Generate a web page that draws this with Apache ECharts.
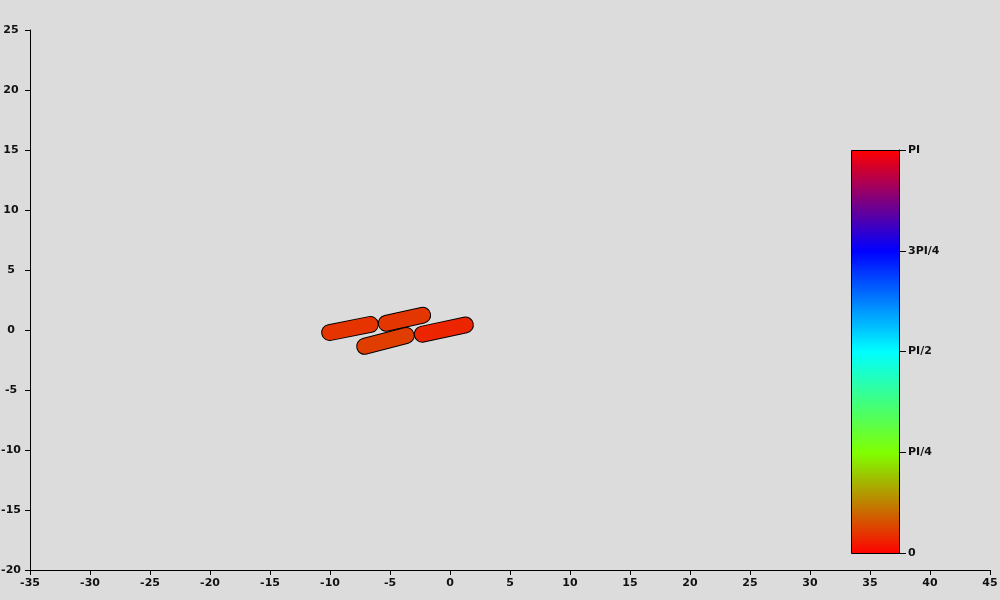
<!DOCTYPE html>
<html>
<head>
<meta charset="utf-8">
<script src="https://cdn.jsdelivr.net/npm/echarts@6/dist/echarts.min.js"></script>
<style>
html,body{margin:0;padding:0;background:#dcdcdc;}
#c{width:1000px;height:600px;}
</style>
</head>
<body>
<div id="c"></div>
<script>
// Rod (capsule) centerline endpoints and orientation value
var rodX1 = [-10.03, -5.31, -7.11, -2.31];
var rodY1 = [-0.21, 0.56, -1.36, -0.35];
var rodX2 = [-6.64, -2.28, -3.64, 1.28];
var rodY2 = [0.46, 1.23, -0.46, 0.42];
var rodAngle = [0.16, 0.165, 0.19, 0.11];

var xTicks = {min: -35, max: 45, step: 5};
var yTicks = {min: -20, max: 25, step: 5};
var cbarLabels = ['0', 'PI/4', 'PI/2', '3PI/4', 'PI'];
var cbarStops = ['#ff0000', '#80ff00', '#00ffff', '#0000ff', '#ff0000'];

var rodData = rodX1.map(function (v, i) {
  return [rodX1[i], rodY1[i], rodX2[i], rodY2[i], rodAngle[i]];
});

function lerpColor(a, b, t) {
  var pa = [parseInt(a.substr(1,2),16), parseInt(a.substr(3,2),16), parseInt(a.substr(5,2),16)];
  var pb = [parseInt(b.substr(1,2),16), parseInt(b.substr(3,2),16), parseInt(b.substr(5,2),16)];
  var r = pa.map(function (v, k) { return Math.round(v + (pb[k] - v) * t); });
  return 'rgb(' + r.join(',') + ')';
}
function angleColor(a) {
  var f = Math.max(0, Math.min(1, a / Math.PI)) * (cbarStops.length - 1);
  var i = Math.min(cbarStops.length - 2, Math.floor(f));
  return lerpColor(cbarStops[i], cbarStops[i + 1], f - i);
}

var font = {fontFamily: 'DejaVu Sans', fontWeight: 'bold', fontSize: 11, color: '#111'};

var chart = echarts.init(document.getElementById('c'), null, {renderer: 'canvas'});
chart.setOption({
  backgroundColor: '#dcdcdc',
  animation: false,
  grid: [
    {left: 30, right: 10, top: 30, bottom: 30, containLabel: false, outerBoundsMode: 'none'},
    {left: 851, width: 48, top: 150, height: 403, containLabel: false, outerBoundsMode: 'none'}
  ],
  xAxis: [
    {gridIndex: 0, type: 'value', min: xTicks.min, max: xTicks.max, interval: xTicks.step,
     axisLine: {onZero: false, lineStyle: {color: '#000', width: 1}},
     axisTick: {length: 5, lineStyle: {color: '#000'}},
     axisLabel: Object.assign({margin: 8, showMinLabel: true, showMaxLabel: true}, font),
     splitLine: {show: false}},
    {gridIndex: 1, type: 'value', min: 0, max: 1, show: false}
  ],
  yAxis: [
    {gridIndex: 0, type: 'value', min: yTicks.min, max: yTicks.max, interval: yTicks.step,
     axisLine: {show: true, onZero: false, lineStyle: {color: '#000', width: 1}},
     axisTick: {show: true, length: 5, lineStyle: {color: '#000'}},
     axisLabel: Object.assign({margin: 19, align: 'center', showMinLabel: true, showMaxLabel: true}, font),
     splitLine: {show: false}},
    {gridIndex: 1, type: 'value', min: 0, max: Math.PI, interval: Math.PI / 4, position: 'right',
     axisLine: {show: true, onZero: false, lineStyle: {color: '#000', width: 1}},
     axisTick: {show: true, length: 7, lineStyle: {color: '#000'}},
     axisLabel: Object.assign({margin: 9, showMinLabel: true, showMaxLabel: true, formatter: function (v) {
       return cbarLabels[Math.round(v / (Math.PI / 4))];
     }}, font),
     splitLine: {show: false}}
  ],
  series: [
    {
      type: 'custom', xAxisIndex: 0, yAxisIndex: 0, clip: false,
      data: rodData,
      renderItem: function (params, api) {
        var p1 = api.coord([api.value(0), api.value(1)]);
        var p2 = api.coord([api.value(2), api.value(3)]);
        var col = angleColor(api.value(4));
        var shape = {x1: p1[0], y1: p1[1], x2: p2[0], y2: p2[1]};
        return {type: 'group', children: [
          {type: 'line', shape: shape, style: {stroke: '#000', lineWidth: 17, lineCap: 'round'}},
          {type: 'line', shape: shape, style: {stroke: col, lineWidth: 15, lineCap: 'round'}}
        ]};
      }
    },
    {
      type: 'custom', xAxisIndex: 1, yAxisIndex: 1, clip: false,
      data: [[0, 0, 1, Math.PI]],
      renderItem: function (params, api) {
        var a = api.coord([api.value(0), api.value(1)]);
        var b = api.coord([api.value(2), api.value(3)]);
        var stops = cbarStops.map(function (c, i) {
          return {offset: 1 - i / (cbarStops.length - 1), color: c};
        }).reverse();
        return {type: 'rect',
          shape: {x: Math.round(a[0]) + 0.5, y: Math.round(b[1]) + 0.5,
                  width: Math.round(b[0] - a[0]), height: Math.round(a[1] - b[1])},
          style: {fill: new echarts.graphic.LinearGradient(0, 0, 0, 1, stops), stroke: '#000', lineWidth: 1}};
      }
    }
  ]
});
</script>
</body>
</html>
